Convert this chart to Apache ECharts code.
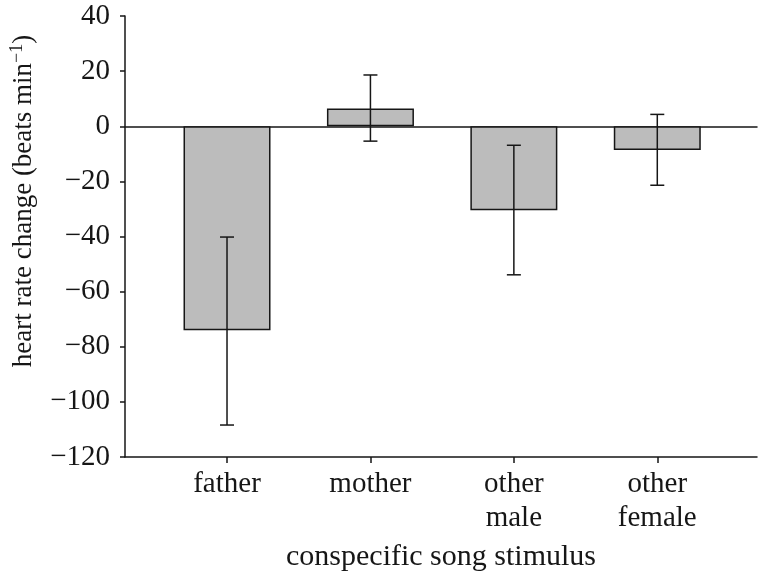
<!DOCTYPE html>
<html>
<head>
<meta charset="utf-8">
<script src="https://cdn.jsdelivr.net/npm/echarts@6/dist/echarts.min.js"></script>
<style>
html,body{margin:0;padding:0;background:#fff;}
#chart{width:758px;height:572px;}
</style>
</head>
<body>
<div id="chart"></div>
<script>
// ---- data ----
const categories = ['father', 'mother', 'other\nmale', 'other\nfemale'];
const meanChange = [-74, 6.4, -30.5, -8.6];
const errLower = [-108.4, -5.4, -53.9, -21.4];
const errUpper = [-40.2, 18.6, -6.9, 4.3];
const yTicks = { min: -120, max: 40, interval: 20 };
const yAxisTitle = 'heart rate change (beats min';
const xAxisTitle = 'conspecific song stimulus';

const INK = '#161616';
const FONT = 'Liberation Serif';
const FS = 29;

const errorData = categories.map((c, i) => [i, errLower[i], errUpper[i]]);

const chart = echarts.init(document.getElementById('chart'), null, { renderer: 'canvas' });

chart.setOption({
  animation: false,
  backgroundColor: '#ffffff',
  grid: [
    // 0: frame/axes
    { left: 125, right: 1, top: 16, bottom: 115 },
    // 1: bars + category labels
    { left: 155.3, right: 29, top: 16, bottom: 115 }
  ],
  xAxis: [
    { type: 'value', gridIndex: 0, min: 0, max: 1, position: 'bottom',
      axisLine: { show: true, onZero: false, lineStyle: { color: INK, width: 1.5 } },
      axisTick: { show: false }, axisLabel: { show: false }, splitLine: { show: false } },
    { type: 'value', gridIndex: 0, min: 0, max: 1, position: 'bottom',
      axisLine: { show: true, onZero: true, lineStyle: { color: INK, width: 1.5 } },
      axisTick: { show: false }, axisLabel: { show: false }, splitLine: { show: false } },
    { type: 'category', gridIndex: 1, data: categories, position: 'bottom', boundaryGap: true,
      axisLine: { show: false, onZero: false },
      axisTick: { show: true, alignWithLabel: true, inside: false, length: 6, lineStyle: { color: INK, width: 1.5 } },
      axisLabel: { show: true, interval: 0, margin: 10, color: INK, fontFamily: FONT, fontSize: FS, lineHeight: 34 },
      splitLine: { show: false } }
  ],
  yAxis: [
    { type: 'value', gridIndex: 0, min: yTicks.min, max: yTicks.max, interval: yTicks.interval,
      axisLine: { show: true, onZero: false, lineStyle: { color: INK, width: 1.5 } },
      axisTick: { show: true, inside: false, length: 5, lineStyle: { color: INK, width: 1.5 } },
      axisLabel: { show: true, margin: 15, color: INK, fontFamily: FONT, fontSize: FS,
        formatter: v => (v < 0 ? '\u2212' + Math.abs(v) : String(v)) },
      splitLine: { show: false } },
    { type: 'value', gridIndex: 1, min: yTicks.min, max: yTicks.max, interval: yTicks.interval, show: false }
  ],
  series: [
    { type: 'bar', xAxisIndex: 2, yAxisIndex: 1, data: meanChange, barWidth: 87,
      itemStyle: { color: '#bcbcbc', borderColor: INK, borderWidth: 1.5 }, z: 2 },
    { type: 'custom', xAxisIndex: 2, yAxisIndex: 1, data: errorData, z: 3,
      renderItem: function (params, api) {
        const x = api.value(0);
        const lo = api.coord([x, api.value(1)]);
        const hi = api.coord([x, api.value(2)]);
        const cap = 7;
        const st = { stroke: INK, lineWidth: 1.5 };
        return { type: 'group', children: [
          { type: 'line', shape: { x1: lo[0], y1: lo[1], x2: hi[0], y2: hi[1] }, style: st },
          { type: 'line', shape: { x1: lo[0] - cap, y1: lo[1], x2: lo[0] + cap, y2: lo[1] }, style: st },
          { type: 'line', shape: { x1: hi[0] - cap, y1: hi[1], x2: hi[0] + cap, y2: hi[1] }, style: st }
        ]};
      } }
  ],
  graphic: [
    { type: 'text', x: 24, y: 201, rotation: Math.PI / 2,
      style: { text: '{a|' + yAxisTitle + '}{s|\u22121}{a|)}', align: 'center', verticalAlign: 'middle',
        rich: {
          a: { fontFamily: FONT, fontSize: 27, fill: INK, color: INK },
          s: { fontFamily: FONT, fontSize: 18, fill: INK, color: INK, padding: [0, 0, 14, 0] }
        } } },
    { type: 'text', x: 441, y: 557,
      style: { text: xAxisTitle, fontFamily: FONT, fontSize: 30, fill: INK, align: 'center', verticalAlign: 'middle' } }
  ]
});
</script>
</body>
</html>
